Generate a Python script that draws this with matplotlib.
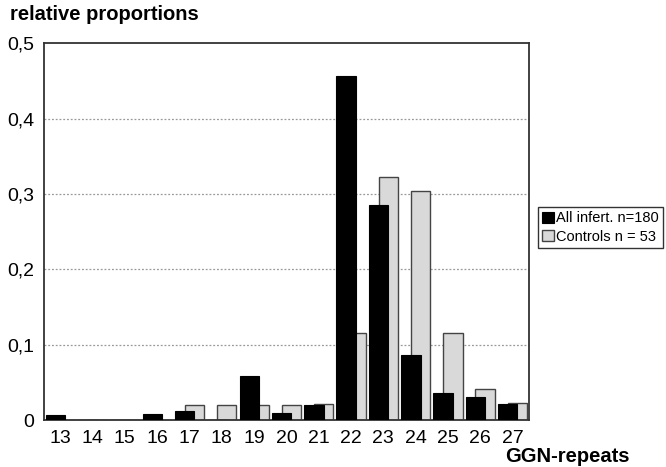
import numpy as np
import matplotlib.pyplot as plt

plt.rcParams['font.family'] = ['Liberation Sans', 'DejaVu Sans']

# GGN-repeat lengths and relative proportions
repeats = [13, 14, 15, 16, 17, 18, 19, 20, 21, 22, 23, 24, 25, 26, 27]
infert = [0.007, 0.0, 0.0, 0.008, 0.012, 0.0, 0.058, 0.009, 0.020,
          0.457, 0.285, 0.086, 0.036, 0.031, 0.021]
controls = [0.0, 0.0, 0.0, 0.0, 0.020, 0.020, 0.020, 0.020, 0.021,
            0.115, 0.322, 0.304, 0.116, 0.041, 0.022]
yticks = [0, 0.1, 0.2, 0.3, 0.4, 0.5]
ytick_labels = ['0', '0,1', '0,2', '0,3', '0,4', '0,5']

fig = plt.figure(figsize=(6.66, 4.67), dpi=100)
ax = fig.add_axes([0.066, 0.1006, 0.728, 0.807])

x = np.arange(len(repeats))
w = 0.6
# grey bars behind, black bars in front
ax.bar(x + 0.15, controls, w, color='#d9d9d9', edgecolor='#444444',
       linewidth=1.0, label='Controls n = 53', zorder=2)
ax.bar(x - 0.15, infert, w, color='black', edgecolor='black',
       linewidth=0.8, label='All infert. n=180', zorder=3)

ax.set_xlim(-0.5, len(repeats) - 0.5)
ax.set_ylim(0, 0.5)
ax.set_xticks(x)
ax.set_xticklabels([str(r) for r in repeats])
ax.set_yticks(yticks)
ax.set_yticklabels(ytick_labels)
ax.tick_params(length=0, labelsize=14)
ax.tick_params(axis='x', pad=7)
ax.tick_params(axis='y', pad=7)
for t in yticks[1:-1]:
    ax.axhline(t, color='#999999', linestyle=(0, (1.5, 1.5)), linewidth=0.9, zorder=1)
for s in ax.spines.values():
    s.set_color('#333333')
    s.set_linewidth(1.3)

fig.text(0.015, 0.968, 'relative proportions', fontsize=14.5, fontweight='bold',
         ha='left', va='center')
fig.text(0.758, 0.022, 'GGN-repeats', fontsize=14.5, fontweight='bold',
         ha='left', va='center')

h, l = ax.get_legend_handles_labels()
leg = fig.legend(h[::-1], l[::-1], loc='upper left',
                 bbox_to_anchor=(538 / 666, 1 - 207 / 467), fontsize=10.5,
                 frameon=True, fancybox=False, edgecolor='black',
                 handlelength=0.8, handleheight=0.8, handletextpad=0.15,
                 borderpad=0.3, labelspacing=0.3, borderaxespad=0)
leg.get_frame().set_linewidth(1.0)

fig.savefig('out.png', dpi=100)
